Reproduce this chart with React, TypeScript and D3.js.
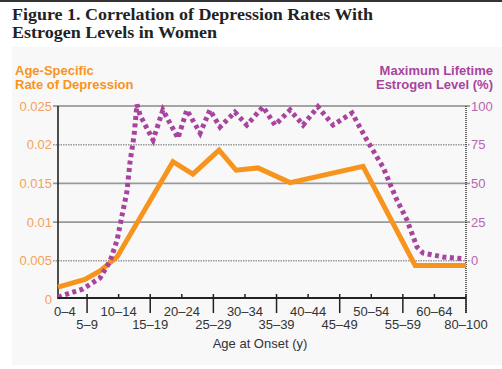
import React from "react";
import * as d3 from "d3";

const categories = ["0–4","5–9","10–14","15–19","20–24","25–29","30–34","35–39","40–44","45–49","50–54","55–59","60–64","80–100"];
const leftTicks = [0, 0.005, 0.01, 0.015, 0.02, 0.025];
const leftTickLabels = ["0", "0.005", "0.01", "0.015", "0.02", "0.025"];
const rightTicks = [0, 25, 50, 75, 100];

// x positions expressed in category-index units
const depressionX = [0.08, 0.93, 1.41, 1.95, 3.72, 4.35, 5.18, 5.72, 6.41, 7.43, 9.74, 11.39, 13];
const depressionRate = [0.0016, 0.0026, 0.0037, 0.0055, 0.0178, 0.0162, 0.0193, 0.0167, 0.017, 0.0151, 0.0172, 0.0044, 0.0044];

const estrogenX = [0.08, 0.87, 1.41, 1.73, 1.95, 2.11, 2.26, 2.36, 2.49, 2.58, 2.68, 3.09, 3.4, 3.88, 4.16, 4.58, 4.89, 5.21, 5.68, 6.06, 6.57, 6.95, 7.43, 7.84, 8.31, 8.79, 9.39, 9.86, 10.37, 10.81, 11.13, 11.45, 11.64, 12.27, 12.97];
const estrogenLevel = [-23.4, -18.2, -11.1, -0.1, 13.4, 29.6, 44.4, 63.8, 81.3, 101, 94, 78, 97.4, 79.3, 97.4, 82.5, 97.4, 86.4, 96.1, 87.7, 99.5, 87.7, 97.4, 87.7, 99.5, 87.7, 95.5, 78, 60.6, 39.3, 26.4, 8.9, 5, 2.5, 1.2];

const ORANGE = "#f7941e";
const PURPLE = "#a8449f";
const SANS = "'Liberation Sans', Arial, sans-serif";
const SERIF = "'Liberation Serif', 'Times New Roman', serif";

export default function App() {
  const W = 502, H = 369;
  const plotLeft = 58, plotRight = 466, plotTop = 106, plotBottom = 299;
  const x = d3.scaleLinear().domain([0, 13]).range([55.5, 466]);
  const yL = d3.scaleLinear().domain([0, 0.025]).range([299.5, 106]);
  const yR = d3.scaleLinear().domain([0, 100]).range([260.8, 106]);

  const depLine = d3.line<number>()
    .x((_, i) => x(depressionX[i]))
    .y((d) => yL(d))
    .curve(d3.curveLinear)(depressionRate) || "";
  const estLine = d3.line<number>()
    .x((_, i) => x(estrogenX[i]))
    .y((d) => yR(d))
    .curve(d3.curveLinear)(estrogenLevel) || "";

  return (
    <svg width={W} height={H} style={{ position: "absolute", left: 0, top: 0, background: "#fff" }}>
      <rect x={0} y={0} width={W} height={2} fill="#333" />
      <rect x={12} y={47} width={W - 12} height={318} fill="#f8f8f8" />
      <text x={12} y={20} fontFamily={SERIF} fontWeight="bold" fontSize={16} fill="#222"
        textLength={361} lengthAdjust="spacingAndGlyphs">Figure 1. Correlation of Depression Rates With</text>
      <text x={12} y={38} fontFamily={SERIF} fontWeight="bold" fontSize={16} fill="#222"
        textLength={205} lengthAdjust="spacingAndGlyphs">Estrogen Levels in Women</text>

      <text x={15} y={75} fontFamily={SANS} fontWeight="bold" fontSize={13} fill={ORANGE}>Age-Specific</text>
      <text x={15} y={89} fontFamily={SANS} fontWeight="bold" fontSize={13} fill={ORANGE}>Rate of Depression</text>
      <text x={493} y={75} textAnchor="end" fontFamily={SANS} fontWeight="bold" fontSize={13} fill={PURPLE}>Maximum Lifetime</text>
      <text x={493} y={89} textAnchor="end" fontFamily={SANS} fontWeight="bold" fontSize={13} fill={PURPLE}>Estrogen Level (%)</text>

      {leftTicks.map((t, i) => {
        const dotted = t === 0.02 || t === 0.005;
        return (
          <g key={"g" + i}>
            {t > 0 && (
              <line x1={plotLeft - 5} x2={plotRight + 4} y1={yL(t)} y2={yL(t)}
                stroke={t === 0.025 ? "#888" : "#9a9a9a"} strokeWidth={1.6}
                strokeDasharray={dotted ? "1.5 1" : undefined} />
            )}
            <text x={52} y={yL(t)} dy="0.36em" textAnchor="end" fontFamily={SANS} fontSize={13} fill="#f5a25a">{leftTickLabels[i]}</text>
          </g>
        );
      })}
      {rightTicks.map((t, i) => (
        <text key={"r" + i} x={471} y={yR(t)} dy="0.36em" fontFamily={SANS} fontSize={13} fill="#b865b0">{t}</text>
      ))}

      <line x1={plotRight} x2={plotRight} y1={plotTop} y2={313} stroke="#333" strokeWidth={1.5} strokeDasharray="1 1" />
      <line x1={plotLeft} x2={plotLeft} y1={plotTop} y2={plotBottom} stroke="#222" strokeWidth={1.6} />

      <path d={depLine} fill="none" stroke={ORANGE} strokeWidth={5} strokeLinejoin="miter" />
      <path d={estLine} fill="none" stroke={PURPLE} strokeWidth={5} strokeDasharray="4 3.5" />

      <line x1={plotLeft} x2={plotRight} y1={298} y2={298} stroke="#222" strokeWidth={1.8} />
      {categories.map((c, i) => {
        const major = i % 2 === 1;
        const px = x(i);
        return (
          <g key={"c" + i}>
            {i > 0 && (
              <line x1={px} x2={px} y1={294} y2={major ? 313 : 298} stroke="#222" strokeWidth={1.5} />
            )}
            <text x={i === 0 ? px - 1.5 : px} y={major ? 329 : 316} textAnchor={i === 0 ? "start" : "middle"}
              fontFamily={SANS} fontSize={13} fill="#333">{c}</text>
          </g>
        );
      })}
      <text x={260} y={348} textAnchor="middle" fontFamily={SANS} fontSize={13} fill="#333">Age at Onset (y)</text>
    </svg>
  );
}
